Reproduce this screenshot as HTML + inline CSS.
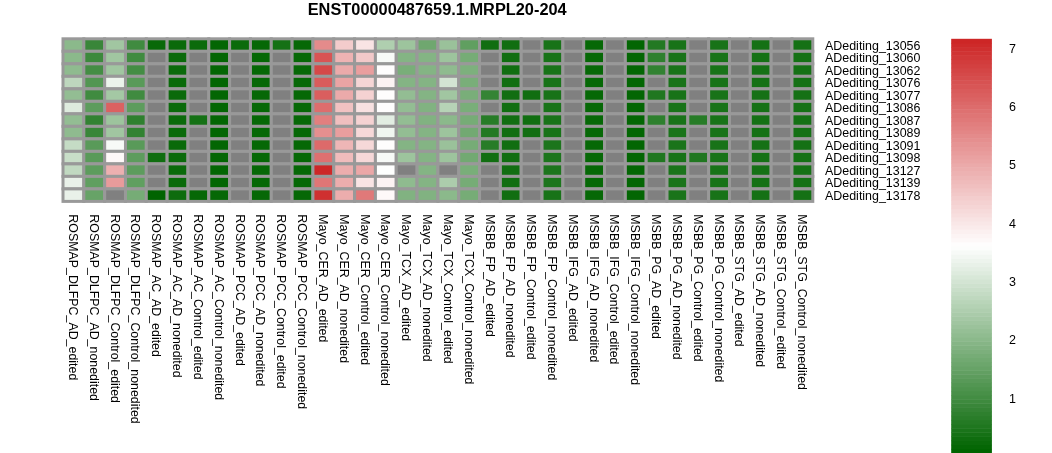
<!DOCTYPE html>
<html><head><meta charset="utf-8"><title>heatmap</title>
<style>
html,body{margin:0;padding:0;background:#fff;}
svg{display:block}
text{font-family:"Liberation Sans",sans-serif;fill:#000}
.t{font-size:16.35px;font-weight:bold;text-anchor:middle}
.r{font-size:12.45px}
.c{font-size:12.4px}
.l{font-size:12.5px}
.cell rect{stroke:#999999;stroke-width:3}
</style></head><body>
<svg width="1052" height="453" viewBox="0 0 1052 453">
<rect width="1052" height="453" fill="#ffffff"/>
<text class="t" x="437.2" y="14.8">ENST00000487659.1.MRPL20-204</text>
<g class="cell">
<rect x="63.00" y="38.80" width="20.83" height="12.51" fill="#8bb98b"/>
<rect x="83.83" y="38.80" width="20.83" height="12.51" fill="#398639"/>
<rect x="104.66" y="38.80" width="20.83" height="12.51" fill="#a1c6a1"/>
<rect x="125.48" y="38.80" width="20.83" height="12.51" fill="#408b40"/>
<rect x="146.31" y="38.80" width="20.83" height="12.51" fill="#096909"/>
<rect x="167.14" y="38.80" width="20.83" height="12.51" fill="#0a6a0a"/>
<rect x="187.97" y="38.80" width="20.83" height="12.51" fill="#0b6b0b"/>
<rect x="208.79" y="38.80" width="20.83" height="12.51" fill="#036603"/>
<rect x="229.62" y="38.80" width="20.83" height="12.51" fill="#0b6b0b"/>
<rect x="250.45" y="38.80" width="20.83" height="12.51" fill="#066806"/>
<rect x="271.28" y="38.80" width="20.83" height="12.51" fill="#157115"/>
<rect x="292.11" y="38.80" width="20.83" height="12.51" fill="#066806"/>
<rect x="312.93" y="38.80" width="20.83" height="12.51" fill="#e48b8b"/>
<rect x="333.76" y="38.80" width="20.83" height="12.51" fill="#f3cccc"/>
<rect x="354.59" y="38.80" width="20.83" height="12.51" fill="#f9e4e4"/>
<rect x="375.42" y="38.80" width="20.83" height="12.51" fill="#afcfaf"/>
<rect x="396.24" y="38.80" width="20.83" height="12.51" fill="#9dc49d"/>
<rect x="417.07" y="38.80" width="20.83" height="12.51" fill="#6fa76f"/>
<rect x="437.90" y="38.80" width="20.83" height="12.51" fill="#9ac19a"/>
<rect x="458.73" y="38.80" width="20.83" height="12.51" fill="#609f60"/>
<rect x="479.56" y="38.80" width="20.83" height="12.51" fill="#116e11"/>
<rect x="500.38" y="38.80" width="20.83" height="12.51" fill="#116e11"/>
<rect x="521.21" y="38.80" width="20.83" height="12.51" fill="#808080"/>
<rect x="542.04" y="38.80" width="20.83" height="12.51" fill="#187318"/>
<rect x="562.87" y="38.80" width="20.83" height="12.51" fill="#808080"/>
<rect x="583.69" y="38.80" width="20.83" height="12.51" fill="#066806"/>
<rect x="604.52" y="38.80" width="20.83" height="12.51" fill="#808080"/>
<rect x="625.35" y="38.80" width="20.83" height="12.51" fill="#036603"/>
<rect x="646.18" y="38.80" width="20.83" height="12.51" fill="#237923"/>
<rect x="667.01" y="38.80" width="20.83" height="12.51" fill="#187318"/>
<rect x="687.83" y="38.80" width="20.83" height="12.51" fill="#808080"/>
<rect x="708.66" y="38.80" width="20.83" height="12.51" fill="#187318"/>
<rect x="729.49" y="38.80" width="20.83" height="12.51" fill="#808080"/>
<rect x="750.32" y="38.80" width="20.83" height="12.51" fill="#157115"/>
<rect x="771.14" y="38.80" width="20.83" height="12.51" fill="#808080"/>
<rect x="791.97" y="38.80" width="20.83" height="12.51" fill="#157115"/>
<rect x="63.00" y="51.31" width="20.83" height="12.51" fill="#8bb98b"/>
<rect x="83.83" y="51.31" width="20.83" height="12.51" fill="#3c893c"/>
<rect x="104.66" y="51.31" width="20.83" height="12.51" fill="#a1c6a1"/>
<rect x="125.48" y="51.31" width="20.83" height="12.51" fill="#408b40"/>
<rect x="146.31" y="51.31" width="20.83" height="12.51" fill="#808080"/>
<rect x="167.14" y="51.31" width="20.83" height="12.51" fill="#0a6a0a"/>
<rect x="187.97" y="51.31" width="20.83" height="12.51" fill="#808080"/>
<rect x="208.79" y="51.31" width="20.83" height="12.51" fill="#036603"/>
<rect x="229.62" y="51.31" width="20.83" height="12.51" fill="#808080"/>
<rect x="250.45" y="51.31" width="20.83" height="12.51" fill="#066806"/>
<rect x="271.28" y="51.31" width="20.83" height="12.51" fill="#808080"/>
<rect x="292.11" y="51.31" width="20.83" height="12.51" fill="#066806"/>
<rect x="312.93" y="51.31" width="20.83" height="12.51" fill="#d85454"/>
<rect x="333.76" y="51.31" width="20.83" height="12.51" fill="#eeb3b3"/>
<rect x="354.59" y="51.31" width="20.83" height="12.51" fill="#f2c9c9"/>
<rect x="375.42" y="51.31" width="20.83" height="12.51" fill="#f7faf7"/>
<rect x="396.24" y="51.31" width="20.83" height="12.51" fill="#84b484"/>
<rect x="417.07" y="51.31" width="20.83" height="12.51" fill="#84b484"/>
<rect x="437.90" y="51.31" width="20.83" height="12.51" fill="#9dc49d"/>
<rect x="458.73" y="51.31" width="20.83" height="12.51" fill="#76ac76"/>
<rect x="479.56" y="51.31" width="20.83" height="12.51" fill="#808080"/>
<rect x="500.38" y="51.31" width="20.83" height="12.51" fill="#116e11"/>
<rect x="521.21" y="51.31" width="20.83" height="12.51" fill="#808080"/>
<rect x="542.04" y="51.31" width="20.83" height="12.51" fill="#187318"/>
<rect x="562.87" y="51.31" width="20.83" height="12.51" fill="#808080"/>
<rect x="583.69" y="51.31" width="20.83" height="12.51" fill="#066806"/>
<rect x="604.52" y="51.31" width="20.83" height="12.51" fill="#808080"/>
<rect x="625.35" y="51.31" width="20.83" height="12.51" fill="#036603"/>
<rect x="646.18" y="51.31" width="20.83" height="12.51" fill="#2e802e"/>
<rect x="667.01" y="51.31" width="20.83" height="12.51" fill="#187318"/>
<rect x="687.83" y="51.31" width="20.83" height="12.51" fill="#808080"/>
<rect x="708.66" y="51.31" width="20.83" height="12.51" fill="#187318"/>
<rect x="729.49" y="51.31" width="20.83" height="12.51" fill="#808080"/>
<rect x="750.32" y="51.31" width="20.83" height="12.51" fill="#157115"/>
<rect x="771.14" y="51.31" width="20.83" height="12.51" fill="#808080"/>
<rect x="791.97" y="51.31" width="20.83" height="12.51" fill="#157115"/>
<rect x="63.00" y="63.82" width="20.83" height="12.51" fill="#8fbb8f"/>
<rect x="83.83" y="63.82" width="20.83" height="12.51" fill="#448d44"/>
<rect x="104.66" y="63.82" width="20.83" height="12.51" fill="#a1c6a1"/>
<rect x="125.48" y="63.82" width="20.83" height="12.51" fill="#448d44"/>
<rect x="146.31" y="63.82" width="20.83" height="12.51" fill="#808080"/>
<rect x="167.14" y="63.82" width="20.83" height="12.51" fill="#0a6a0a"/>
<rect x="187.97" y="63.82" width="20.83" height="12.51" fill="#808080"/>
<rect x="208.79" y="63.82" width="20.83" height="12.51" fill="#036603"/>
<rect x="229.62" y="63.82" width="20.83" height="12.51" fill="#808080"/>
<rect x="250.45" y="63.82" width="20.83" height="12.51" fill="#066806"/>
<rect x="271.28" y="63.82" width="20.83" height="12.51" fill="#808080"/>
<rect x="292.11" y="63.82" width="20.83" height="12.51" fill="#066806"/>
<rect x="312.93" y="63.82" width="20.83" height="12.51" fill="#d54848"/>
<rect x="333.76" y="63.82" width="20.83" height="12.51" fill="#ebaaaa"/>
<rect x="354.59" y="63.82" width="20.83" height="12.51" fill="#e99e9e"/>
<rect x="375.42" y="63.82" width="20.83" height="12.51" fill="#fefdfd"/>
<rect x="396.24" y="63.82" width="20.83" height="12.51" fill="#79ae79"/>
<rect x="417.07" y="63.82" width="20.83" height="12.51" fill="#84b484"/>
<rect x="437.90" y="63.82" width="20.83" height="12.51" fill="#8fbb8f"/>
<rect x="458.73" y="63.82" width="20.83" height="12.51" fill="#7db07d"/>
<rect x="479.56" y="63.82" width="20.83" height="12.51" fill="#808080"/>
<rect x="500.38" y="63.82" width="20.83" height="12.51" fill="#116e11"/>
<rect x="521.21" y="63.82" width="20.83" height="12.51" fill="#808080"/>
<rect x="542.04" y="63.82" width="20.83" height="12.51" fill="#187318"/>
<rect x="562.87" y="63.82" width="20.83" height="12.51" fill="#808080"/>
<rect x="583.69" y="63.82" width="20.83" height="12.51" fill="#066806"/>
<rect x="604.52" y="63.82" width="20.83" height="12.51" fill="#808080"/>
<rect x="625.35" y="63.82" width="20.83" height="12.51" fill="#036603"/>
<rect x="646.18" y="63.82" width="20.83" height="12.51" fill="#328232"/>
<rect x="667.01" y="63.82" width="20.83" height="12.51" fill="#187318"/>
<rect x="687.83" y="63.82" width="20.83" height="12.51" fill="#808080"/>
<rect x="708.66" y="63.82" width="20.83" height="12.51" fill="#187318"/>
<rect x="729.49" y="63.82" width="20.83" height="12.51" fill="#808080"/>
<rect x="750.32" y="63.82" width="20.83" height="12.51" fill="#157115"/>
<rect x="771.14" y="63.82" width="20.83" height="12.51" fill="#808080"/>
<rect x="791.97" y="63.82" width="20.83" height="12.51" fill="#157115"/>
<rect x="63.00" y="76.32" width="20.83" height="12.51" fill="#bed7be"/>
<rect x="83.83" y="76.32" width="20.83" height="12.51" fill="#529652"/>
<rect x="104.66" y="76.32" width="20.83" height="12.51" fill="#ecf4ec"/>
<rect x="125.48" y="76.32" width="20.83" height="12.51" fill="#599a59"/>
<rect x="146.31" y="76.32" width="20.83" height="12.51" fill="#808080"/>
<rect x="167.14" y="76.32" width="20.83" height="12.51" fill="#0a6a0a"/>
<rect x="187.97" y="76.32" width="20.83" height="12.51" fill="#808080"/>
<rect x="208.79" y="76.32" width="20.83" height="12.51" fill="#036603"/>
<rect x="229.62" y="76.32" width="20.83" height="12.51" fill="#808080"/>
<rect x="250.45" y="76.32" width="20.83" height="12.51" fill="#066806"/>
<rect x="271.28" y="76.32" width="20.83" height="12.51" fill="#808080"/>
<rect x="292.11" y="76.32" width="20.83" height="12.51" fill="#066806"/>
<rect x="312.93" y="76.32" width="20.83" height="12.51" fill="#d95b5b"/>
<rect x="333.76" y="76.32" width="20.83" height="12.51" fill="#eaa4a4"/>
<rect x="354.59" y="76.32" width="20.83" height="12.51" fill="#f5d5d5"/>
<rect x="375.42" y="76.32" width="20.83" height="12.51" fill="#fcf3f3"/>
<rect x="396.24" y="76.32" width="20.83" height="12.51" fill="#84b484"/>
<rect x="417.07" y="76.32" width="20.83" height="12.51" fill="#84b484"/>
<rect x="437.90" y="76.32" width="20.83" height="12.51" fill="#d3e4d3"/>
<rect x="458.73" y="76.32" width="20.83" height="12.51" fill="#79ae79"/>
<rect x="479.56" y="76.32" width="20.83" height="12.51" fill="#808080"/>
<rect x="500.38" y="76.32" width="20.83" height="12.51" fill="#116e11"/>
<rect x="521.21" y="76.32" width="20.83" height="12.51" fill="#808080"/>
<rect x="542.04" y="76.32" width="20.83" height="12.51" fill="#187318"/>
<rect x="562.87" y="76.32" width="20.83" height="12.51" fill="#808080"/>
<rect x="583.69" y="76.32" width="20.83" height="12.51" fill="#066806"/>
<rect x="604.52" y="76.32" width="20.83" height="12.51" fill="#808080"/>
<rect x="625.35" y="76.32" width="20.83" height="12.51" fill="#036603"/>
<rect x="646.18" y="76.32" width="20.83" height="12.51" fill="#808080"/>
<rect x="667.01" y="76.32" width="20.83" height="12.51" fill="#187318"/>
<rect x="687.83" y="76.32" width="20.83" height="12.51" fill="#808080"/>
<rect x="708.66" y="76.32" width="20.83" height="12.51" fill="#187318"/>
<rect x="729.49" y="76.32" width="20.83" height="12.51" fill="#808080"/>
<rect x="750.32" y="76.32" width="20.83" height="12.51" fill="#157115"/>
<rect x="771.14" y="76.32" width="20.83" height="12.51" fill="#808080"/>
<rect x="791.97" y="76.32" width="20.83" height="12.51" fill="#157115"/>
<rect x="63.00" y="88.83" width="20.83" height="12.51" fill="#93bd93"/>
<rect x="83.83" y="88.83" width="20.83" height="12.51" fill="#408b40"/>
<rect x="104.66" y="88.83" width="20.83" height="12.51" fill="#a4c8a4"/>
<rect x="125.48" y="88.83" width="20.83" height="12.51" fill="#408b40"/>
<rect x="146.31" y="88.83" width="20.83" height="12.51" fill="#808080"/>
<rect x="167.14" y="88.83" width="20.83" height="12.51" fill="#0a6a0a"/>
<rect x="187.97" y="88.83" width="20.83" height="12.51" fill="#808080"/>
<rect x="208.79" y="88.83" width="20.83" height="12.51" fill="#036603"/>
<rect x="229.62" y="88.83" width="20.83" height="12.51" fill="#808080"/>
<rect x="250.45" y="88.83" width="20.83" height="12.51" fill="#066806"/>
<rect x="271.28" y="88.83" width="20.83" height="12.51" fill="#808080"/>
<rect x="292.11" y="88.83" width="20.83" height="12.51" fill="#066806"/>
<rect x="312.93" y="88.83" width="20.83" height="12.51" fill="#da5e5e"/>
<rect x="333.76" y="88.83" width="20.83" height="12.51" fill="#ebaaaa"/>
<rect x="354.59" y="88.83" width="20.83" height="12.51" fill="#f5d2d2"/>
<rect x="375.42" y="88.83" width="20.83" height="12.51" fill="#fefdfd"/>
<rect x="396.24" y="88.83" width="20.83" height="12.51" fill="#93bd93"/>
<rect x="417.07" y="88.83" width="20.83" height="12.51" fill="#84b484"/>
<rect x="437.90" y="88.83" width="20.83" height="12.51" fill="#a1c6a1"/>
<rect x="458.73" y="88.83" width="20.83" height="12.51" fill="#79ae79"/>
<rect x="479.56" y="88.83" width="20.83" height="12.51" fill="#358435"/>
<rect x="500.38" y="88.83" width="20.83" height="12.51" fill="#116e11"/>
<rect x="521.21" y="88.83" width="20.83" height="12.51" fill="#116e11"/>
<rect x="542.04" y="88.83" width="20.83" height="12.51" fill="#187318"/>
<rect x="562.87" y="88.83" width="20.83" height="12.51" fill="#808080"/>
<rect x="583.69" y="88.83" width="20.83" height="12.51" fill="#066806"/>
<rect x="604.52" y="88.83" width="20.83" height="12.51" fill="#808080"/>
<rect x="625.35" y="88.83" width="20.83" height="12.51" fill="#036603"/>
<rect x="646.18" y="88.83" width="20.83" height="12.51" fill="#207720"/>
<rect x="667.01" y="88.83" width="20.83" height="12.51" fill="#187318"/>
<rect x="687.83" y="88.83" width="20.83" height="12.51" fill="#808080"/>
<rect x="708.66" y="88.83" width="20.83" height="12.51" fill="#187318"/>
<rect x="729.49" y="88.83" width="20.83" height="12.51" fill="#808080"/>
<rect x="750.32" y="88.83" width="20.83" height="12.51" fill="#157115"/>
<rect x="771.14" y="88.83" width="20.83" height="12.51" fill="#808080"/>
<rect x="791.97" y="88.83" width="20.83" height="12.51" fill="#157115"/>
<rect x="63.00" y="101.34" width="20.83" height="12.51" fill="#deebde"/>
<rect x="83.83" y="101.34" width="20.83" height="12.51" fill="#5d9c5d"/>
<rect x="104.66" y="101.34" width="20.83" height="12.51" fill="#db6161"/>
<rect x="125.48" y="101.34" width="20.83" height="12.51" fill="#5d9c5d"/>
<rect x="146.31" y="101.34" width="20.83" height="12.51" fill="#808080"/>
<rect x="167.14" y="101.34" width="20.83" height="12.51" fill="#0a6a0a"/>
<rect x="187.97" y="101.34" width="20.83" height="12.51" fill="#808080"/>
<rect x="208.79" y="101.34" width="20.83" height="12.51" fill="#036603"/>
<rect x="229.62" y="101.34" width="20.83" height="12.51" fill="#808080"/>
<rect x="250.45" y="101.34" width="20.83" height="12.51" fill="#066806"/>
<rect x="271.28" y="101.34" width="20.83" height="12.51" fill="#808080"/>
<rect x="292.11" y="101.34" width="20.83" height="12.51" fill="#066806"/>
<rect x="312.93" y="101.34" width="20.83" height="12.51" fill="#dd6d6d"/>
<rect x="333.76" y="101.34" width="20.83" height="12.51" fill="#f1c2c2"/>
<rect x="354.59" y="101.34" width="20.83" height="12.51" fill="#f8e1e1"/>
<rect x="375.42" y="101.34" width="20.83" height="12.51" fill="#fefdfd"/>
<rect x="396.24" y="101.34" width="20.83" height="12.51" fill="#93bd93"/>
<rect x="417.07" y="101.34" width="20.83" height="12.51" fill="#81b281"/>
<rect x="437.90" y="101.34" width="20.83" height="12.51" fill="#b6d3b6"/>
<rect x="458.73" y="101.34" width="20.83" height="12.51" fill="#79ae79"/>
<rect x="479.56" y="101.34" width="20.83" height="12.51" fill="#808080"/>
<rect x="500.38" y="101.34" width="20.83" height="12.51" fill="#116e11"/>
<rect x="521.21" y="101.34" width="20.83" height="12.51" fill="#808080"/>
<rect x="542.04" y="101.34" width="20.83" height="12.51" fill="#187318"/>
<rect x="562.87" y="101.34" width="20.83" height="12.51" fill="#808080"/>
<rect x="583.69" y="101.34" width="20.83" height="12.51" fill="#066806"/>
<rect x="604.52" y="101.34" width="20.83" height="12.51" fill="#808080"/>
<rect x="625.35" y="101.34" width="20.83" height="12.51" fill="#036603"/>
<rect x="646.18" y="101.34" width="20.83" height="12.51" fill="#808080"/>
<rect x="667.01" y="101.34" width="20.83" height="12.51" fill="#187318"/>
<rect x="687.83" y="101.34" width="20.83" height="12.51" fill="#808080"/>
<rect x="708.66" y="101.34" width="20.83" height="12.51" fill="#187318"/>
<rect x="729.49" y="101.34" width="20.83" height="12.51" fill="#808080"/>
<rect x="750.32" y="101.34" width="20.83" height="12.51" fill="#157115"/>
<rect x="771.14" y="101.34" width="20.83" height="12.51" fill="#808080"/>
<rect x="791.97" y="101.34" width="20.83" height="12.51" fill="#157115"/>
<rect x="63.00" y="113.85" width="20.83" height="12.51" fill="#93bd93"/>
<rect x="83.83" y="113.85" width="20.83" height="12.51" fill="#328232"/>
<rect x="104.66" y="113.85" width="20.83" height="12.51" fill="#9dc49d"/>
<rect x="125.48" y="113.85" width="20.83" height="12.51" fill="#2e802e"/>
<rect x="146.31" y="113.85" width="20.83" height="12.51" fill="#808080"/>
<rect x="167.14" y="113.85" width="20.83" height="12.51" fill="#0a6a0a"/>
<rect x="187.97" y="113.85" width="20.83" height="12.51" fill="#157115"/>
<rect x="208.79" y="113.85" width="20.83" height="12.51" fill="#036603"/>
<rect x="229.62" y="113.85" width="20.83" height="12.51" fill="#808080"/>
<rect x="250.45" y="113.85" width="20.83" height="12.51" fill="#066806"/>
<rect x="271.28" y="113.85" width="20.83" height="12.51" fill="#808080"/>
<rect x="292.11" y="113.85" width="20.83" height="12.51" fill="#066806"/>
<rect x="312.93" y="113.85" width="20.83" height="12.51" fill="#e27f7f"/>
<rect x="333.76" y="113.85" width="20.83" height="12.51" fill="#f0bfbf"/>
<rect x="354.59" y="113.85" width="20.83" height="12.51" fill="#f5d2d2"/>
<rect x="375.42" y="113.85" width="20.83" height="12.51" fill="#e2ede2"/>
<rect x="396.24" y="113.85" width="20.83" height="12.51" fill="#93bd93"/>
<rect x="417.07" y="113.85" width="20.83" height="12.51" fill="#81b281"/>
<rect x="437.90" y="113.85" width="20.83" height="12.51" fill="#8bb98b"/>
<rect x="458.73" y="113.85" width="20.83" height="12.51" fill="#76ac76"/>
<rect x="479.56" y="113.85" width="20.83" height="12.51" fill="#277c27"/>
<rect x="500.38" y="113.85" width="20.83" height="12.51" fill="#116e11"/>
<rect x="521.21" y="113.85" width="20.83" height="12.51" fill="#116e11"/>
<rect x="542.04" y="113.85" width="20.83" height="12.51" fill="#187318"/>
<rect x="562.87" y="113.85" width="20.83" height="12.51" fill="#808080"/>
<rect x="583.69" y="113.85" width="20.83" height="12.51" fill="#066806"/>
<rect x="604.52" y="113.85" width="20.83" height="12.51" fill="#808080"/>
<rect x="625.35" y="113.85" width="20.83" height="12.51" fill="#036603"/>
<rect x="646.18" y="113.85" width="20.83" height="12.51" fill="#2e802e"/>
<rect x="667.01" y="113.85" width="20.83" height="12.51" fill="#187318"/>
<rect x="687.83" y="113.85" width="20.83" height="12.51" fill="#277c27"/>
<rect x="708.66" y="113.85" width="20.83" height="12.51" fill="#187318"/>
<rect x="729.49" y="113.85" width="20.83" height="12.51" fill="#808080"/>
<rect x="750.32" y="113.85" width="20.83" height="12.51" fill="#157115"/>
<rect x="771.14" y="113.85" width="20.83" height="12.51" fill="#808080"/>
<rect x="791.97" y="113.85" width="20.83" height="12.51" fill="#157115"/>
<rect x="63.00" y="126.35" width="20.83" height="12.51" fill="#8fbb8f"/>
<rect x="83.83" y="126.35" width="20.83" height="12.51" fill="#398639"/>
<rect x="104.66" y="126.35" width="20.83" height="12.51" fill="#a1c6a1"/>
<rect x="125.48" y="126.35" width="20.83" height="12.51" fill="#328232"/>
<rect x="146.31" y="126.35" width="20.83" height="12.51" fill="#808080"/>
<rect x="167.14" y="126.35" width="20.83" height="12.51" fill="#0a6a0a"/>
<rect x="187.97" y="126.35" width="20.83" height="12.51" fill="#808080"/>
<rect x="208.79" y="126.35" width="20.83" height="12.51" fill="#036603"/>
<rect x="229.62" y="126.35" width="20.83" height="12.51" fill="#808080"/>
<rect x="250.45" y="126.35" width="20.83" height="12.51" fill="#066806"/>
<rect x="271.28" y="126.35" width="20.83" height="12.51" fill="#808080"/>
<rect x="292.11" y="126.35" width="20.83" height="12.51" fill="#066806"/>
<rect x="312.93" y="126.35" width="20.83" height="12.51" fill="#e58f8f"/>
<rect x="333.76" y="126.35" width="20.83" height="12.51" fill="#e99e9e"/>
<rect x="354.59" y="126.35" width="20.83" height="12.51" fill="#f6d8d8"/>
<rect x="375.42" y="126.35" width="20.83" height="12.51" fill="#f0f6f0"/>
<rect x="396.24" y="126.35" width="20.83" height="12.51" fill="#93bd93"/>
<rect x="417.07" y="126.35" width="20.83" height="12.51" fill="#84b484"/>
<rect x="437.90" y="126.35" width="20.83" height="12.51" fill="#9dc49d"/>
<rect x="458.73" y="126.35" width="20.83" height="12.51" fill="#72a972"/>
<rect x="479.56" y="126.35" width="20.83" height="12.51" fill="#237923"/>
<rect x="500.38" y="126.35" width="20.83" height="12.51" fill="#116e11"/>
<rect x="521.21" y="126.35" width="20.83" height="12.51" fill="#116e11"/>
<rect x="542.04" y="126.35" width="20.83" height="12.51" fill="#187318"/>
<rect x="562.87" y="126.35" width="20.83" height="12.51" fill="#808080"/>
<rect x="583.69" y="126.35" width="20.83" height="12.51" fill="#066806"/>
<rect x="604.52" y="126.35" width="20.83" height="12.51" fill="#808080"/>
<rect x="625.35" y="126.35" width="20.83" height="12.51" fill="#036603"/>
<rect x="646.18" y="126.35" width="20.83" height="12.51" fill="#808080"/>
<rect x="667.01" y="126.35" width="20.83" height="12.51" fill="#1a741a"/>
<rect x="687.83" y="126.35" width="20.83" height="12.51" fill="#808080"/>
<rect x="708.66" y="126.35" width="20.83" height="12.51" fill="#187318"/>
<rect x="729.49" y="126.35" width="20.83" height="12.51" fill="#808080"/>
<rect x="750.32" y="126.35" width="20.83" height="12.51" fill="#157115"/>
<rect x="771.14" y="126.35" width="20.83" height="12.51" fill="#808080"/>
<rect x="791.97" y="126.35" width="20.83" height="12.51" fill="#157115"/>
<rect x="63.00" y="138.86" width="20.83" height="12.51" fill="#c5dcc5"/>
<rect x="83.83" y="138.86" width="20.83" height="12.51" fill="#599a59"/>
<rect x="104.66" y="138.86" width="20.83" height="12.51" fill="#f7faf7"/>
<rect x="125.48" y="138.86" width="20.83" height="12.51" fill="#599a59"/>
<rect x="146.31" y="138.86" width="20.83" height="12.51" fill="#808080"/>
<rect x="167.14" y="138.86" width="20.83" height="12.51" fill="#0a6a0a"/>
<rect x="187.97" y="138.86" width="20.83" height="12.51" fill="#808080"/>
<rect x="208.79" y="138.86" width="20.83" height="12.51" fill="#036603"/>
<rect x="229.62" y="138.86" width="20.83" height="12.51" fill="#808080"/>
<rect x="250.45" y="138.86" width="20.83" height="12.51" fill="#066806"/>
<rect x="271.28" y="138.86" width="20.83" height="12.51" fill="#808080"/>
<rect x="292.11" y="138.86" width="20.83" height="12.51" fill="#066806"/>
<rect x="312.93" y="138.86" width="20.83" height="12.51" fill="#dd6a6a"/>
<rect x="333.76" y="138.86" width="20.83" height="12.51" fill="#eeb6b6"/>
<rect x="354.59" y="138.86" width="20.83" height="12.51" fill="#f6d8d8"/>
<rect x="375.42" y="138.86" width="20.83" height="12.51" fill="#fefdfd"/>
<rect x="396.24" y="138.86" width="20.83" height="12.51" fill="#84b484"/>
<rect x="417.07" y="138.86" width="20.83" height="12.51" fill="#84b484"/>
<rect x="437.90" y="138.86" width="20.83" height="12.51" fill="#9ac19a"/>
<rect x="458.73" y="138.86" width="20.83" height="12.51" fill="#76ac76"/>
<rect x="479.56" y="138.86" width="20.83" height="12.51" fill="#277c27"/>
<rect x="500.38" y="138.86" width="20.83" height="12.51" fill="#116e11"/>
<rect x="521.21" y="138.86" width="20.83" height="12.51" fill="#808080"/>
<rect x="542.04" y="138.86" width="20.83" height="12.51" fill="#1c751c"/>
<rect x="562.87" y="138.86" width="20.83" height="12.51" fill="#808080"/>
<rect x="583.69" y="138.86" width="20.83" height="12.51" fill="#066806"/>
<rect x="604.52" y="138.86" width="20.83" height="12.51" fill="#808080"/>
<rect x="625.35" y="138.86" width="20.83" height="12.51" fill="#036603"/>
<rect x="646.18" y="138.86" width="20.83" height="12.51" fill="#808080"/>
<rect x="667.01" y="138.86" width="20.83" height="12.51" fill="#1a741a"/>
<rect x="687.83" y="138.86" width="20.83" height="12.51" fill="#808080"/>
<rect x="708.66" y="138.86" width="20.83" height="12.51" fill="#187318"/>
<rect x="729.49" y="138.86" width="20.83" height="12.51" fill="#808080"/>
<rect x="750.32" y="138.86" width="20.83" height="12.51" fill="#157115"/>
<rect x="771.14" y="138.86" width="20.83" height="12.51" fill="#808080"/>
<rect x="791.97" y="138.86" width="20.83" height="12.51" fill="#157115"/>
<rect x="63.00" y="151.37" width="20.83" height="12.51" fill="#c8dec8"/>
<rect x="83.83" y="151.37" width="20.83" height="12.51" fill="#599a59"/>
<rect x="104.66" y="151.37" width="20.83" height="12.51" fill="#fef9f9"/>
<rect x="125.48" y="151.37" width="20.83" height="12.51" fill="#5d9c5d"/>
<rect x="146.31" y="151.37" width="20.83" height="12.51" fill="#106e10"/>
<rect x="167.14" y="151.37" width="20.83" height="12.51" fill="#0a6a0a"/>
<rect x="187.97" y="151.37" width="20.83" height="12.51" fill="#808080"/>
<rect x="208.79" y="151.37" width="20.83" height="12.51" fill="#036603"/>
<rect x="229.62" y="151.37" width="20.83" height="12.51" fill="#808080"/>
<rect x="250.45" y="151.37" width="20.83" height="12.51" fill="#066806"/>
<rect x="271.28" y="151.37" width="20.83" height="12.51" fill="#808080"/>
<rect x="292.11" y="151.37" width="20.83" height="12.51" fill="#066806"/>
<rect x="312.93" y="151.37" width="20.83" height="12.51" fill="#de7070"/>
<rect x="333.76" y="151.37" width="20.83" height="12.51" fill="#f0bcbc"/>
<rect x="354.59" y="151.37" width="20.83" height="12.51" fill="#f6d8d8"/>
<rect x="375.42" y="151.37" width="20.83" height="12.51" fill="#f7faf7"/>
<rect x="396.24" y="151.37" width="20.83" height="12.51" fill="#9dc49d"/>
<rect x="417.07" y="151.37" width="20.83" height="12.51" fill="#84b484"/>
<rect x="437.90" y="151.37" width="20.83" height="12.51" fill="#9dc49d"/>
<rect x="458.73" y="151.37" width="20.83" height="12.51" fill="#72a972"/>
<rect x="479.56" y="151.37" width="20.83" height="12.51" fill="#116e11"/>
<rect x="500.38" y="151.37" width="20.83" height="12.51" fill="#116e11"/>
<rect x="521.21" y="151.37" width="20.83" height="12.51" fill="#808080"/>
<rect x="542.04" y="151.37" width="20.83" height="12.51" fill="#1c751c"/>
<rect x="562.87" y="151.37" width="20.83" height="12.51" fill="#808080"/>
<rect x="583.69" y="151.37" width="20.83" height="12.51" fill="#066806"/>
<rect x="604.52" y="151.37" width="20.83" height="12.51" fill="#808080"/>
<rect x="625.35" y="151.37" width="20.83" height="12.51" fill="#036603"/>
<rect x="646.18" y="151.37" width="20.83" height="12.51" fill="#207720"/>
<rect x="667.01" y="151.37" width="20.83" height="12.51" fill="#187318"/>
<rect x="687.83" y="151.37" width="20.83" height="12.51" fill="#207720"/>
<rect x="708.66" y="151.37" width="20.83" height="12.51" fill="#187318"/>
<rect x="729.49" y="151.37" width="20.83" height="12.51" fill="#808080"/>
<rect x="750.32" y="151.37" width="20.83" height="12.51" fill="#157115"/>
<rect x="771.14" y="151.37" width="20.83" height="12.51" fill="#808080"/>
<rect x="791.97" y="151.37" width="20.83" height="12.51" fill="#157115"/>
<rect x="63.00" y="163.88" width="20.83" height="12.51" fill="#c1d9c1"/>
<rect x="83.83" y="163.88" width="20.83" height="12.51" fill="#5d9c5d"/>
<rect x="104.66" y="163.88" width="20.83" height="12.51" fill="#edb0b0"/>
<rect x="125.48" y="163.88" width="20.83" height="12.51" fill="#5d9c5d"/>
<rect x="146.31" y="163.88" width="20.83" height="12.51" fill="#808080"/>
<rect x="167.14" y="163.88" width="20.83" height="12.51" fill="#0a6a0a"/>
<rect x="187.97" y="163.88" width="20.83" height="12.51" fill="#808080"/>
<rect x="208.79" y="163.88" width="20.83" height="12.51" fill="#036603"/>
<rect x="229.62" y="163.88" width="20.83" height="12.51" fill="#808080"/>
<rect x="250.45" y="163.88" width="20.83" height="12.51" fill="#066806"/>
<rect x="271.28" y="163.88" width="20.83" height="12.51" fill="#808080"/>
<rect x="292.11" y="163.88" width="20.83" height="12.51" fill="#066806"/>
<rect x="312.93" y="163.88" width="20.83" height="12.51" fill="#cd2727"/>
<rect x="333.76" y="163.88" width="20.83" height="12.51" fill="#ecadad"/>
<rect x="354.59" y="163.88" width="20.83" height="12.51" fill="#eba7a7"/>
<rect x="375.42" y="163.88" width="20.83" height="12.51" fill="#fefffe"/>
<rect x="396.24" y="163.88" width="20.83" height="12.51" fill="#808080"/>
<rect x="417.07" y="163.88" width="20.83" height="12.51" fill="#84b484"/>
<rect x="437.90" y="163.88" width="20.83" height="12.51" fill="#808080"/>
<rect x="458.73" y="163.88" width="20.83" height="12.51" fill="#79ae79"/>
<rect x="479.56" y="163.88" width="20.83" height="12.51" fill="#808080"/>
<rect x="500.38" y="163.88" width="20.83" height="12.51" fill="#116e11"/>
<rect x="521.21" y="163.88" width="20.83" height="12.51" fill="#808080"/>
<rect x="542.04" y="163.88" width="20.83" height="12.51" fill="#1c751c"/>
<rect x="562.87" y="163.88" width="20.83" height="12.51" fill="#808080"/>
<rect x="583.69" y="163.88" width="20.83" height="12.51" fill="#066806"/>
<rect x="604.52" y="163.88" width="20.83" height="12.51" fill="#808080"/>
<rect x="625.35" y="163.88" width="20.83" height="12.51" fill="#036603"/>
<rect x="646.18" y="163.88" width="20.83" height="12.51" fill="#808080"/>
<rect x="667.01" y="163.88" width="20.83" height="12.51" fill="#1a741a"/>
<rect x="687.83" y="163.88" width="20.83" height="12.51" fill="#808080"/>
<rect x="708.66" y="163.88" width="20.83" height="12.51" fill="#187318"/>
<rect x="729.49" y="163.88" width="20.83" height="12.51" fill="#808080"/>
<rect x="750.32" y="163.88" width="20.83" height="12.51" fill="#157115"/>
<rect x="771.14" y="163.88" width="20.83" height="12.51" fill="#808080"/>
<rect x="791.97" y="163.88" width="20.83" height="12.51" fill="#157115"/>
<rect x="63.00" y="176.38" width="20.83" height="12.51" fill="#e9f1e9"/>
<rect x="83.83" y="176.38" width="20.83" height="12.51" fill="#609f60"/>
<rect x="104.66" y="176.38" width="20.83" height="12.51" fill="#e89b9b"/>
<rect x="125.48" y="176.38" width="20.83" height="12.51" fill="#609f60"/>
<rect x="146.31" y="176.38" width="20.83" height="12.51" fill="#808080"/>
<rect x="167.14" y="176.38" width="20.83" height="12.51" fill="#0a6a0a"/>
<rect x="187.97" y="176.38" width="20.83" height="12.51" fill="#808080"/>
<rect x="208.79" y="176.38" width="20.83" height="12.51" fill="#036603"/>
<rect x="229.62" y="176.38" width="20.83" height="12.51" fill="#808080"/>
<rect x="250.45" y="176.38" width="20.83" height="12.51" fill="#066806"/>
<rect x="271.28" y="176.38" width="20.83" height="12.51" fill="#808080"/>
<rect x="292.11" y="176.38" width="20.83" height="12.51" fill="#066806"/>
<rect x="312.93" y="176.38" width="20.83" height="12.51" fill="#df7676"/>
<rect x="333.76" y="176.38" width="20.83" height="12.51" fill="#ecadad"/>
<rect x="354.59" y="176.38" width="20.83" height="12.51" fill="#f9e4e4"/>
<rect x="375.42" y="176.38" width="20.83" height="12.51" fill="#fcf3f3"/>
<rect x="396.24" y="176.38" width="20.83" height="12.51" fill="#8fbb8f"/>
<rect x="417.07" y="176.38" width="20.83" height="12.51" fill="#84b484"/>
<rect x="437.90" y="176.38" width="20.83" height="12.51" fill="#acccac"/>
<rect x="458.73" y="176.38" width="20.83" height="12.51" fill="#76ac76"/>
<rect x="479.56" y="176.38" width="20.83" height="12.51" fill="#808080"/>
<rect x="500.38" y="176.38" width="20.83" height="12.51" fill="#116e11"/>
<rect x="521.21" y="176.38" width="20.83" height="12.51" fill="#808080"/>
<rect x="542.04" y="176.38" width="20.83" height="12.51" fill="#1c751c"/>
<rect x="562.87" y="176.38" width="20.83" height="12.51" fill="#808080"/>
<rect x="583.69" y="176.38" width="20.83" height="12.51" fill="#066806"/>
<rect x="604.52" y="176.38" width="20.83" height="12.51" fill="#808080"/>
<rect x="625.35" y="176.38" width="20.83" height="12.51" fill="#036603"/>
<rect x="646.18" y="176.38" width="20.83" height="12.51" fill="#808080"/>
<rect x="667.01" y="176.38" width="20.83" height="12.51" fill="#1a741a"/>
<rect x="687.83" y="176.38" width="20.83" height="12.51" fill="#808080"/>
<rect x="708.66" y="176.38" width="20.83" height="12.51" fill="#187318"/>
<rect x="729.49" y="176.38" width="20.83" height="12.51" fill="#808080"/>
<rect x="750.32" y="176.38" width="20.83" height="12.51" fill="#157115"/>
<rect x="771.14" y="176.38" width="20.83" height="12.51" fill="#808080"/>
<rect x="791.97" y="176.38" width="20.83" height="12.51" fill="#157115"/>
<rect x="63.00" y="188.89" width="20.83" height="12.51" fill="#e9f1e9"/>
<rect x="83.83" y="188.89" width="20.83" height="12.51" fill="#67a367"/>
<rect x="104.66" y="188.89" width="20.83" height="12.51" fill="#808080"/>
<rect x="125.48" y="188.89" width="20.83" height="12.51" fill="#76ac76"/>
<rect x="146.31" y="188.89" width="20.83" height="12.51" fill="#006400"/>
<rect x="167.14" y="188.89" width="20.83" height="12.51" fill="#0e6c0e"/>
<rect x="187.97" y="188.89" width="20.83" height="12.51" fill="#066806"/>
<rect x="208.79" y="188.89" width="20.83" height="12.51" fill="#066806"/>
<rect x="229.62" y="188.89" width="20.83" height="12.51" fill="#808080"/>
<rect x="250.45" y="188.89" width="20.83" height="12.51" fill="#066806"/>
<rect x="271.28" y="188.89" width="20.83" height="12.51" fill="#808080"/>
<rect x="292.11" y="188.89" width="20.83" height="12.51" fill="#066806"/>
<rect x="312.93" y="188.89" width="20.83" height="12.51" fill="#cf3030"/>
<rect x="333.76" y="188.89" width="20.83" height="12.51" fill="#ecadad"/>
<rect x="354.59" y="188.89" width="20.83" height="12.51" fill="#e07979"/>
<rect x="375.42" y="188.89" width="20.83" height="12.51" fill="#fef9f9"/>
<rect x="396.24" y="188.89" width="20.83" height="12.51" fill="#81b281"/>
<rect x="417.07" y="188.89" width="20.83" height="12.51" fill="#81b281"/>
<rect x="437.90" y="188.89" width="20.83" height="12.51" fill="#8bb98b"/>
<rect x="458.73" y="188.89" width="20.83" height="12.51" fill="#76ac76"/>
<rect x="479.56" y="188.89" width="20.83" height="12.51" fill="#808080"/>
<rect x="500.38" y="188.89" width="20.83" height="12.51" fill="#116e11"/>
<rect x="521.21" y="188.89" width="20.83" height="12.51" fill="#808080"/>
<rect x="542.04" y="188.89" width="20.83" height="12.51" fill="#187318"/>
<rect x="562.87" y="188.89" width="20.83" height="12.51" fill="#808080"/>
<rect x="583.69" y="188.89" width="20.83" height="12.51" fill="#066806"/>
<rect x="604.52" y="188.89" width="20.83" height="12.51" fill="#808080"/>
<rect x="625.35" y="188.89" width="20.83" height="12.51" fill="#036603"/>
<rect x="646.18" y="188.89" width="20.83" height="12.51" fill="#808080"/>
<rect x="667.01" y="188.89" width="20.83" height="12.51" fill="#1a741a"/>
<rect x="687.83" y="188.89" width="20.83" height="12.51" fill="#808080"/>
<rect x="708.66" y="188.89" width="20.83" height="12.51" fill="#187318"/>
<rect x="729.49" y="188.89" width="20.83" height="12.51" fill="#808080"/>
<rect x="750.32" y="188.89" width="20.83" height="12.51" fill="#157115"/>
<rect x="771.14" y="188.89" width="20.83" height="12.51" fill="#808080"/>
<rect x="791.97" y="188.89" width="20.83" height="12.51" fill="#157115"/>
</g>
<text class="r" x="825.0" y="49.50">ADediting_13056</text>
<text class="r" x="825.0" y="62.01">ADediting_13060</text>
<text class="r" x="825.0" y="74.52">ADediting_13062</text>
<text class="r" x="825.0" y="87.03">ADediting_13076</text>
<text class="r" x="825.0" y="99.53">ADediting_13077</text>
<text class="r" x="825.0" y="112.04">ADediting_13086</text>
<text class="r" x="825.0" y="124.55">ADediting_13087</text>
<text class="r" x="825.0" y="137.06">ADediting_13089</text>
<text class="r" x="825.0" y="149.57">ADediting_13091</text>
<text class="r" x="825.0" y="162.07">ADediting_13098</text>
<text class="r" x="825.0" y="174.58">ADediting_13127</text>
<text class="r" x="825.0" y="187.09">ADediting_13139</text>
<text class="r" x="825.0" y="199.60">ADediting_13178</text>
<text class="c" transform="translate(68.96,214.3) rotate(90)">ROSMAP_DLFPC_AD_edited</text>
<text class="c" transform="translate(89.79,214.3) rotate(90)">ROSMAP_DLFPC_AD_nonedited</text>
<text class="c" transform="translate(110.62,214.3) rotate(90)">ROSMAP_DLFPC_Control_edited</text>
<text class="c" transform="translate(131.45,214.3) rotate(90)">ROSMAP_DLFPC_Control_nonedited</text>
<text class="c" transform="translate(152.28,214.3) rotate(90)">ROSMAP_AC_AD_edited</text>
<text class="c" transform="translate(173.10,214.3) rotate(90)">ROSMAP_AC_AD_nonedited</text>
<text class="c" transform="translate(193.93,214.3) rotate(90)">ROSMAP_AC_Control_edited</text>
<text class="c" transform="translate(214.76,214.3) rotate(90)">ROSMAP_AC_Control_nonedited</text>
<text class="c" transform="translate(235.59,214.3) rotate(90)">ROSMAP_PCC_AD_edited</text>
<text class="c" transform="translate(256.41,214.3) rotate(90)">ROSMAP_PCC_AD_nonedited</text>
<text class="c" transform="translate(277.24,214.3) rotate(90)">ROSMAP_PCC_Control_edited</text>
<text class="c" transform="translate(298.07,214.3) rotate(90)">ROSMAP_PCC_Control_nonedited</text>
<text class="c" transform="translate(318.90,214.3) rotate(90)">Mayo_CER_AD_edited</text>
<text class="c" transform="translate(339.72,214.3) rotate(90)">Mayo_CER_AD_nonedited</text>
<text class="c" transform="translate(360.55,214.3) rotate(90)">Mayo_CER_Control_edited</text>
<text class="c" transform="translate(381.38,214.3) rotate(90)">Mayo_CER_Control_nonedited</text>
<text class="c" transform="translate(402.21,214.3) rotate(90)">Mayo_TCX_AD_edited</text>
<text class="c" transform="translate(423.04,214.3) rotate(90)">Mayo_TCX_AD_nonedited</text>
<text class="c" transform="translate(443.86,214.3) rotate(90)">Mayo_TCX_Control_edited</text>
<text class="c" transform="translate(464.69,214.3) rotate(90)">Mayo_TCX_Control_nonedited</text>
<text class="c" transform="translate(485.52,214.3) rotate(90)">MSBB_FP_AD_edited</text>
<text class="c" transform="translate(506.35,214.3) rotate(90)">MSBB_FP_AD_nonedited</text>
<text class="c" transform="translate(527.17,214.3) rotate(90)">MSBB_FP_Control_edited</text>
<text class="c" transform="translate(548.00,214.3) rotate(90)">MSBB_FP_Control_nonedited</text>
<text class="c" transform="translate(568.83,214.3) rotate(90)">MSBB_IFG_AD_edited</text>
<text class="c" transform="translate(589.66,214.3) rotate(90)">MSBB_IFG_AD_nonedited</text>
<text class="c" transform="translate(610.49,214.3) rotate(90)">MSBB_IFG_Control_edited</text>
<text class="c" transform="translate(631.31,214.3) rotate(90)">MSBB_IFG_Control_nonedited</text>
<text class="c" transform="translate(652.14,214.3) rotate(90)">MSBB_PG_AD_edited</text>
<text class="c" transform="translate(672.97,214.3) rotate(90)">MSBB_PG_AD_nonedited</text>
<text class="c" transform="translate(693.80,214.3) rotate(90)">MSBB_PG_Control_edited</text>
<text class="c" transform="translate(714.62,214.3) rotate(90)">MSBB_PG_Control_nonedited</text>
<text class="c" transform="translate(735.45,214.3) rotate(90)">MSBB_STG_AD_edited</text>
<text class="c" transform="translate(756.28,214.3) rotate(90)">MSBB_STG_AD_nonedited</text>
<text class="c" transform="translate(777.11,214.3) rotate(90)">MSBB_STG_Control_edited</text>
<text class="c" transform="translate(797.94,214.3) rotate(90)">MSBB_STG_Control_nonedited</text>
<g>
<rect x="951.2" y="448.86" width="40.70" height="4.14" fill="#006400"/>
<rect x="951.2" y="444.72" width="40.70" height="4.64" fill="#056705"/>
<rect x="951.2" y="440.57" width="40.70" height="4.64" fill="#0a6a0a"/>
<rect x="951.2" y="436.43" width="40.70" height="4.64" fill="#0f6d0f"/>
<rect x="951.2" y="432.29" width="40.70" height="4.64" fill="#157115"/>
<rect x="951.2" y="428.15" width="40.70" height="4.64" fill="#1a741a"/>
<rect x="951.2" y="424.01" width="40.70" height="4.64" fill="#1f771f"/>
<rect x="951.2" y="419.86" width="40.70" height="4.64" fill="#247a24"/>
<rect x="951.2" y="415.72" width="40.70" height="4.64" fill="#297d29"/>
<rect x="951.2" y="411.58" width="40.70" height="4.64" fill="#2e802e"/>
<rect x="951.2" y="407.44" width="40.70" height="4.64" fill="#348334"/>
<rect x="951.2" y="403.30" width="40.70" height="4.64" fill="#398639"/>
<rect x="951.2" y="399.15" width="40.70" height="4.64" fill="#3e8a3e"/>
<rect x="951.2" y="395.01" width="40.70" height="4.64" fill="#438d43"/>
<rect x="951.2" y="390.87" width="40.70" height="4.64" fill="#489048"/>
<rect x="951.2" y="386.73" width="40.70" height="4.64" fill="#4d934d"/>
<rect x="951.2" y="382.59" width="40.70" height="4.64" fill="#529652"/>
<rect x="951.2" y="378.44" width="40.70" height="4.64" fill="#589958"/>
<rect x="951.2" y="374.30" width="40.70" height="4.64" fill="#5d9c5d"/>
<rect x="951.2" y="370.16" width="40.70" height="4.64" fill="#629f62"/>
<rect x="951.2" y="366.02" width="40.70" height="4.64" fill="#67a367"/>
<rect x="951.2" y="361.88" width="40.70" height="4.64" fill="#6ca66c"/>
<rect x="951.2" y="357.73" width="40.70" height="4.64" fill="#71a971"/>
<rect x="951.2" y="353.59" width="40.70" height="4.64" fill="#76ac76"/>
<rect x="951.2" y="349.45" width="40.70" height="4.64" fill="#7caf7c"/>
<rect x="951.2" y="345.31" width="40.70" height="4.64" fill="#81b281"/>
<rect x="951.2" y="341.17" width="40.70" height="4.64" fill="#86b586"/>
<rect x="951.2" y="337.02" width="40.70" height="4.64" fill="#8bb98b"/>
<rect x="951.2" y="332.88" width="40.70" height="4.64" fill="#90bc90"/>
<rect x="951.2" y="328.74" width="40.70" height="4.64" fill="#95bf95"/>
<rect x="951.2" y="324.60" width="40.70" height="4.64" fill="#9bc29b"/>
<rect x="951.2" y="320.46" width="40.70" height="4.64" fill="#a0c5a0"/>
<rect x="951.2" y="316.31" width="40.70" height="4.64" fill="#a5c8a5"/>
<rect x="951.2" y="312.17" width="40.70" height="4.64" fill="#aacbaa"/>
<rect x="951.2" y="308.03" width="40.70" height="4.64" fill="#afceaf"/>
<rect x="951.2" y="303.89" width="40.70" height="4.64" fill="#b4d2b4"/>
<rect x="951.2" y="299.75" width="40.70" height="4.64" fill="#b9d5b9"/>
<rect x="951.2" y="295.60" width="40.70" height="4.64" fill="#bfd8bf"/>
<rect x="951.2" y="291.46" width="40.70" height="4.64" fill="#c4dbc4"/>
<rect x="951.2" y="287.32" width="40.70" height="4.64" fill="#c9dec9"/>
<rect x="951.2" y="283.18" width="40.70" height="4.64" fill="#cee1ce"/>
<rect x="951.2" y="279.04" width="40.70" height="4.64" fill="#d3e4d3"/>
<rect x="951.2" y="274.89" width="40.70" height="4.64" fill="#d8e8d8"/>
<rect x="951.2" y="270.75" width="40.70" height="4.64" fill="#deebde"/>
<rect x="951.2" y="266.61" width="40.70" height="4.64" fill="#e3eee3"/>
<rect x="951.2" y="262.47" width="40.70" height="4.64" fill="#e8f1e8"/>
<rect x="951.2" y="258.33" width="40.70" height="4.64" fill="#edf4ed"/>
<rect x="951.2" y="254.18" width="40.70" height="4.64" fill="#f2f7f2"/>
<rect x="951.2" y="250.04" width="40.70" height="4.64" fill="#f7faf7"/>
<rect x="951.2" y="245.90" width="40.70" height="4.64" fill="#fcfdfc"/>
<rect x="951.2" y="241.76" width="40.70" height="4.64" fill="#fefdfd"/>
<rect x="951.2" y="237.62" width="40.70" height="4.64" fill="#fdf8f8"/>
<rect x="951.2" y="233.47" width="40.70" height="4.64" fill="#fcf4f4"/>
<rect x="951.2" y="229.33" width="40.70" height="4.64" fill="#fbf0f0"/>
<rect x="951.2" y="225.19" width="40.70" height="4.64" fill="#faebeb"/>
<rect x="951.2" y="221.05" width="40.70" height="4.64" fill="#f9e7e7"/>
<rect x="951.2" y="216.91" width="40.70" height="4.64" fill="#f8e3e3"/>
<rect x="951.2" y="212.76" width="40.70" height="4.64" fill="#f7dede"/>
<rect x="951.2" y="208.62" width="40.70" height="4.64" fill="#f6dada"/>
<rect x="951.2" y="204.48" width="40.70" height="4.64" fill="#f5d5d5"/>
<rect x="951.2" y="200.34" width="40.70" height="4.64" fill="#f4d1d1"/>
<rect x="951.2" y="196.20" width="40.70" height="4.64" fill="#f3cdcd"/>
<rect x="951.2" y="192.05" width="40.70" height="4.64" fill="#f2c8c8"/>
<rect x="951.2" y="187.91" width="40.70" height="4.64" fill="#f1c4c4"/>
<rect x="951.2" y="183.77" width="40.70" height="4.64" fill="#f0bfbf"/>
<rect x="951.2" y="179.63" width="40.70" height="4.64" fill="#efbbbb"/>
<rect x="951.2" y="175.49" width="40.70" height="4.64" fill="#eeb7b7"/>
<rect x="951.2" y="171.34" width="40.70" height="4.64" fill="#edb2b2"/>
<rect x="951.2" y="167.20" width="40.70" height="4.64" fill="#ecaeae"/>
<rect x="951.2" y="163.06" width="40.70" height="4.64" fill="#ebaaaa"/>
<rect x="951.2" y="158.92" width="40.70" height="4.64" fill="#eaa5a5"/>
<rect x="951.2" y="154.78" width="40.70" height="4.64" fill="#e9a1a1"/>
<rect x="951.2" y="150.63" width="40.70" height="4.64" fill="#e89c9c"/>
<rect x="951.2" y="146.49" width="40.70" height="4.64" fill="#e79898"/>
<rect x="951.2" y="142.35" width="40.70" height="4.64" fill="#e69494"/>
<rect x="951.2" y="138.21" width="40.70" height="4.64" fill="#e58f8f"/>
<rect x="951.2" y="134.07" width="40.70" height="4.64" fill="#e48b8b"/>
<rect x="951.2" y="129.92" width="40.70" height="4.64" fill="#e38686"/>
<rect x="951.2" y="125.78" width="40.70" height="4.64" fill="#e28282"/>
<rect x="951.2" y="121.64" width="40.70" height="4.64" fill="#e17e7e"/>
<rect x="951.2" y="117.50" width="40.70" height="4.64" fill="#e07979"/>
<rect x="951.2" y="113.36" width="40.70" height="4.64" fill="#df7575"/>
<rect x="951.2" y="109.21" width="40.70" height="4.64" fill="#de7171"/>
<rect x="951.2" y="105.07" width="40.70" height="4.64" fill="#dd6c6c"/>
<rect x="951.2" y="100.93" width="40.70" height="4.64" fill="#dc6868"/>
<rect x="951.2" y="96.79" width="40.70" height="4.64" fill="#db6363"/>
<rect x="951.2" y="92.65" width="40.70" height="4.64" fill="#da5f5f"/>
<rect x="951.2" y="88.50" width="40.70" height="4.64" fill="#d95b5b"/>
<rect x="951.2" y="84.36" width="40.70" height="4.64" fill="#d85656"/>
<rect x="951.2" y="80.22" width="40.70" height="4.64" fill="#d75252"/>
<rect x="951.2" y="76.08" width="40.70" height="4.64" fill="#d64d4d"/>
<rect x="951.2" y="71.94" width="40.70" height="4.64" fill="#d54949"/>
<rect x="951.2" y="67.79" width="40.70" height="4.64" fill="#d44545"/>
<rect x="951.2" y="63.65" width="40.70" height="4.64" fill="#d34040"/>
<rect x="951.2" y="59.51" width="40.70" height="4.64" fill="#d23c3c"/>
<rect x="951.2" y="55.37" width="40.70" height="4.64" fill="#d13838"/>
<rect x="951.2" y="51.23" width="40.70" height="4.64" fill="#d03333"/>
<rect x="951.2" y="47.08" width="40.70" height="4.64" fill="#cf2f2f"/>
<rect x="951.2" y="42.94" width="40.70" height="4.64" fill="#ce2a2a"/>
<rect x="951.2" y="38.80" width="40.70" height="4.64" fill="#cd2626"/>
</g>
<text class="l" x="1009" y="402.50">1</text>
<text class="l" x="1009" y="344.20">2</text>
<text class="l" x="1009" y="285.90">3</text>
<text class="l" x="1009" y="227.60">4</text>
<text class="l" x="1009" y="169.30">5</text>
<text class="l" x="1009" y="111.00">6</text>
<text class="l" x="1009" y="52.70">7</text>
</svg></body></html>
